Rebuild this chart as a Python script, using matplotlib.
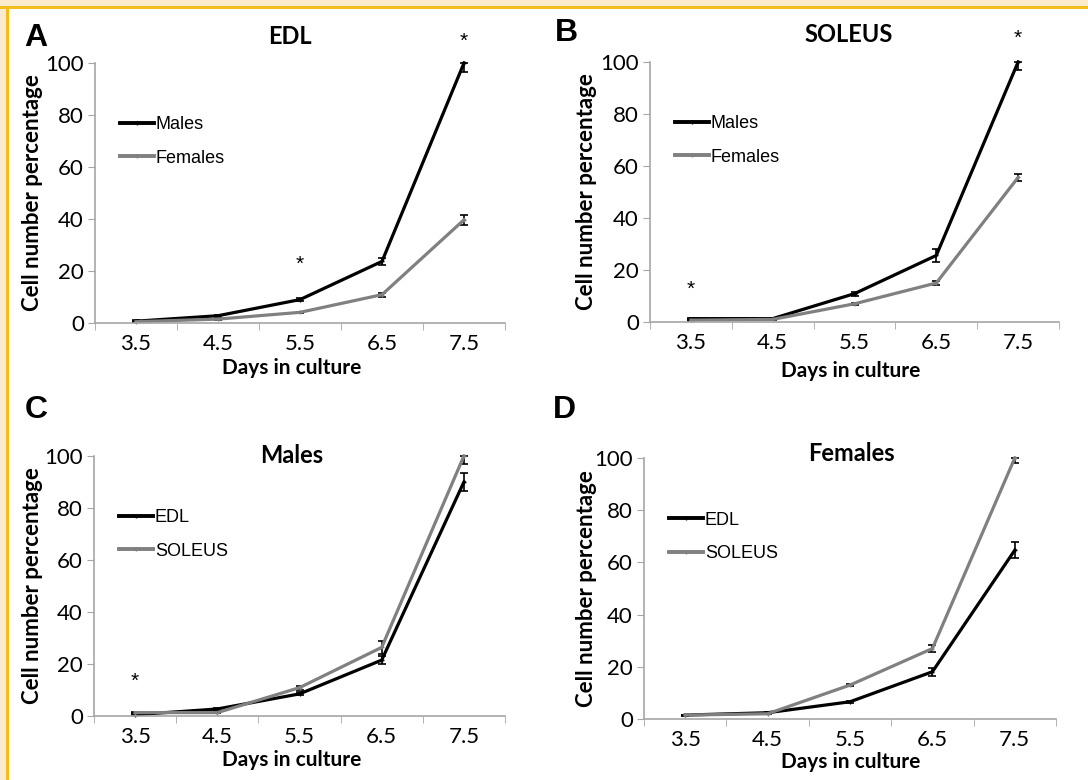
import matplotlib
matplotlib.use('Agg')
import matplotlib.pyplot as plt
from matplotlib.lines import Line2D
import numpy as np

# Data
days = ['3.5', '4.5', '5.5', '6.5', '7.5']

# A - EDL
a_males = [0.7, 2.8, 9.0, 23.7, 100.0]
a_males_err = [0.3, 0.3, 0.5, 1.2, 3.5]
a_females = [0.5, 1.5, 4.1, 10.9, 39.7]
a_females_err = [0.2, 0.2, 0.3, 0.8, 2.0]

# B - SOLEUS
b_males = [1.3, 1.3, 10.9, 25.6, 100.0]
b_males_err = [0.3, 0.3, 0.8, 2.5, 3.0]
b_females = [0.7, 1.0, 7.0, 15.0, 55.6]
b_females_err = [0.2, 0.2, 0.4, 0.8, 1.5]

# C - Males
c_edl = [0.5, 2.7, 8.5, 21.5, 90.0]
c_edl_err = [0.2, 0.3, 0.6, 1.5, 3.5]
c_soleus = [1.3, 1.3, 10.9, 26.4, 100.0]
c_soleus_err = [0.3, 0.3, 0.8, 2.5, 3.0]

# D - Females
d_edl = [1.5, 2.4, 6.6, 18.1, 64.7]
d_edl_err = [0.2, 0.2, 0.4, 1.5, 3.0]
d_soleus = [1.5, 2.0, 13.0, 27.0, 100.0]
d_soleus_err = [0.2, 0.2, 0.5, 1.2, 2.0]

W, H = 1088, 780
black = '#000000'
gray = '#808080'
spine_col = '#a6a6a6'

fig = plt.figure(figsize=(W / 100, H / 100), dpi=100)
fig.patch.set_facecolor('white')

def fx(px):
    return px / W

def fy(py):
    return 1 - py / H

# frame (beige band + orange line on top and left)
fig.patches.append(plt.Rectangle((0, fy(6)), 1, 6 / H, transform=fig.transFigure,
                                 facecolor='#fbebcc', edgecolor='none', zorder=0))
fig.patches.append(plt.Rectangle((0, 0), 6 / W, 1, transform=fig.transFigure,
                                 facecolor='#fbebcc', edgecolor='none', zorder=0))
fig.patches.append(plt.Rectangle((0, fy(9)), 1, 3 / H, transform=fig.transFigure,
                                 facecolor='#f3bd1c', edgecolor='none', zorder=1))
fig.patches.append(plt.Rectangle((6 / W, 0), 3 / W, fy(6), transform=fig.transFigure,
                                 facecolor='#f3bd1c', edgecolor='none', zorder=1))


def panel(box, s1, e1, s2, e2, labels, title, title_xy, letter, letter_xy, stars,
          ylab_x, xlab_xy):
    x0, y0, x1, y1 = box
    ax = fig.add_axes([fx(x0), fy(y1), (x1 - x0) / W, (y1 - y0) / H])
    x = np.arange(len(days))
    handles = []
    for vals, err, col, lab in [(s1, e1, black, labels[0]), (s2, e2, gray, labels[1])]:
        vals = np.array(vals)
        err = np.array(err)
        upper = np.minimum(err, 100 - vals)
        ax.errorbar(x, vals, yerr=[err, upper], color=col, lw=2.3, ecolor='black',
                    elinewidth=1.2, capsize=3, capthick=1.2, clip_on=False,
                    marker='+', markersize=3)
        handles.append(Line2D([], [], color=col, lw=2.8, marker='+', markersize=3, label=lab))
    ax.set_xlim(-0.5, len(days) - 0.5)
    ax.set_ylim(0, 100)
    ax.set_yticks(np.arange(0, 101, 20))
    ax.set_xticks(x)
    ax.set_xticklabels(days)
    ax.set_xticks(np.arange(-0.5, len(days), 1), minor=True)
    ax.tick_params(axis='x', which='major', length=0, pad=8, labelsize=16, labelfontfamily='Lato')
    ax.tick_params(axis='x', which='minor', length=5, direction='out', color=spine_col)
    ax.tick_params(axis='y', length=5, direction='out', color=spine_col, labelsize=16,
                   labelfontfamily='Lato', pad=3)
    for s in ['top', 'right']:
        ax.spines[s].set_visible(False)
    for s in ['left', 'bottom']:
        ax.spines[s].set_color(spine_col)
        ax.spines[s].set_linewidth(1.2)
    ax.set_ylabel('Cell number percentage', fontsize=16, fontweight='bold', family='Lato')
    ax.set_xlabel('Days in culture', fontsize=15, fontweight='bold', family='Lato')
    ax.yaxis.set_label_coords((ylab_x - x0) / (x1 - x0), 0.5)
    ax.xaxis.set_label_coords((xlab_xy[0] - x0) / (x1 - x0), (y1 - xlab_xy[1]) / (y1 - y0))
    ax.legend(handles=handles, loc='upper left', bbox_to_anchor=(0.025, 0.85), frameon=False,
              handlelength=1.9, handletextpad=0.1, labelspacing=0.9, borderpad=0.3,
              prop={'family': 'Liberation Sans', 'size': 13})
    fig.text(fx(title_xy[0]), fy(title_xy[1]), title, ha='center', va='center',
             fontsize=17, fontweight='bold', family='Lato')
    fig.text(fx(letter_xy[0]), fy(letter_xy[1]), letter, ha='center', va='center',
             fontsize=23, fontweight='bold', family='Liberation Sans')
    for sx, sy in stars:
        ax.text(sx, sy, '*', ha='center', va='center', fontsize=15, clip_on=False,
                family='Liberation Sans')
    return ax


panel((95, 63, 505, 323), a_males, a_males_err, a_females, a_females_err,
      ['Males', 'Females'], 'EDL', (290, 37), 'A', (36, 38), [(2, 22.4), (4, 108.5)],
      43, (292, 358))
panel((650, 62, 1059, 322), b_males, b_males_err, b_females, b_females_err,
      ['Males', 'Females'], 'SOLEUS', (849, 35), 'B', (566, 33), [(0, 12.5), (4, 109)],
      597, (851, 361))
panel((94, 456, 505, 716), c_edl, c_edl_err, c_soleus, c_soleus_err,
      ['EDL', 'SOLEUS'], 'Males', (292, 455), 'C', (36, 410), [(0, 13.3)],
      43, (292, 750))
panel((644, 458, 1056, 719), d_edl, d_edl_err, d_soleus, d_soleus_err,
      ['EDL', 'SOLEUS'], 'Females', (851, 453), 'D', (564, 410), [],
      597, (851, 752))

fig.savefig('out.png', dpi=100)
